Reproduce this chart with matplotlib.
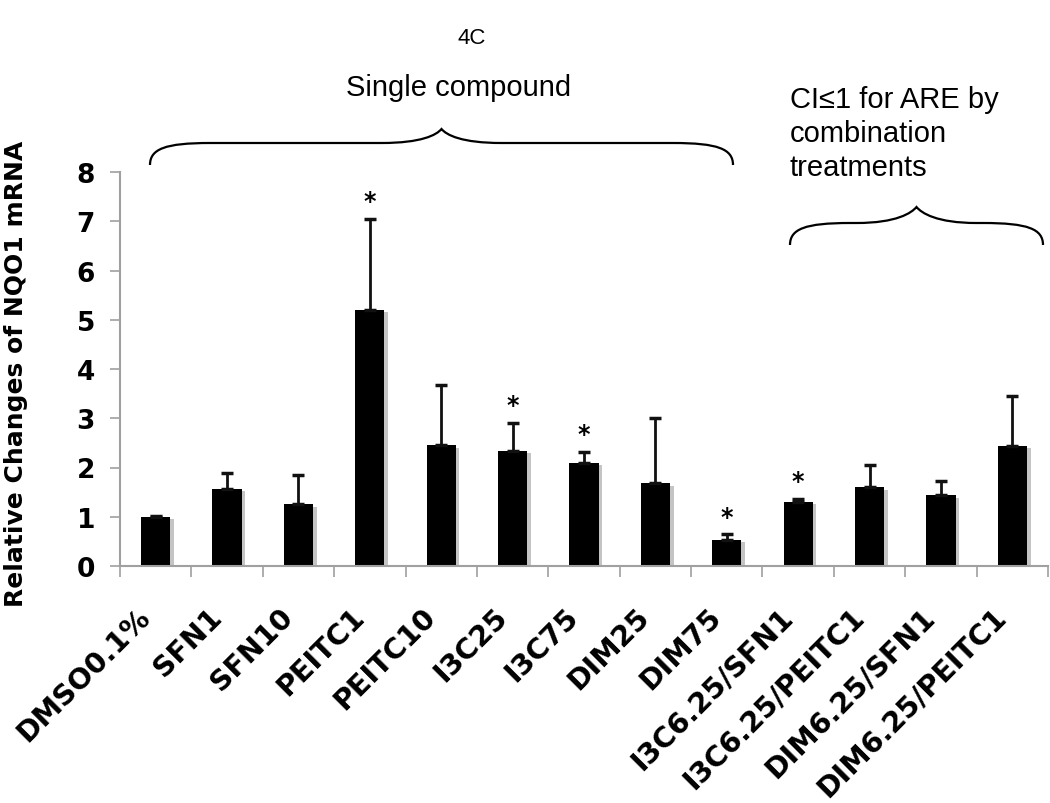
import matplotlib.pyplot as plt
from matplotlib.path import Path
from matplotlib.patches import PathPatch

W, H = 1050, 804

categories = ['DMSO0.1%', 'SFN1', 'SFN10', 'PEITC1', 'PEITC10', 'I3C25', 'I3C75',
              'DIM25', 'DIM75', 'I3C6.25/SFN1', 'I3C6.25/PEITC1', 'DIM6.25/SFN1',
              'DIM6.25/PEITC1']
means = [1.00, 1.57, 1.25, 5.20, 2.45, 2.34, 2.10, 1.68, 0.53, 1.30, 1.60, 1.44, 2.44]
errors = [0.02, 0.32, 0.59, 1.85, 1.22, 0.57, 0.22, 1.33, 0.11, 0.07, 0.46, 0.28, 1.02]
significant = [False, False, False, True, False, True, True, False, True, True,
               False, False, False]

fig = plt.figure(figsize=(W / 100, H / 100), dpi=100)
ax = fig.add_axes([120 / W, 1 - 567 / H, 928 / W, 394 / H])

x = list(range(len(categories)))

# light grey drop shadow behind each bar
ax.bar([i + 0.05 for i in x], [m - 0.05 for m in means], width=0.41,
       color='#c4c4c4', zorder=1)
ax.bar(x, means, width=0.41, color='black', zorder=2)
ax.errorbar(x, means, yerr=[[0] * len(x), errors], fmt='none', ecolor='#111111',
            elinewidth=2, capsize=4, capthick=2.5, zorder=3)

for i, sig in enumerate(significant):
    if sig:
        ax.annotate('*', xy=(i, means[i] + errors[i]), xytext=(0, 4),
                    textcoords='offset points', ha='center', va='bottom',
                    fontsize=17, fontweight='bold')

ax.set_xlim(-0.5, len(categories) - 0.5)
ax.set_ylim(0, 8)
ax.set_yticks(range(0, 9))
ax.tick_params(axis='y', length=7, width=1.2, color='#a0a0a0', pad=11,
               labelsize=19)
for lab in ax.get_yticklabels():
    lab.set_fontweight('bold')

ax.set_xticks(x)
ax.set_xticklabels(categories, rotation=45, ha='right', va='top',
                   fontsize=20.5, fontweight='bold')
ax.tick_params(axis='x', which='major', length=0, pad=26)
ax.set_xticks([i - 0.5 for i in range(len(categories) + 1)], minor=True)
ax.tick_params(axis='x', which='minor', length=8, width=1.2, color='#a0a0a0')

for side in ['top', 'right']:
    ax.spines[side].set_visible(False)
for side in ['left', 'bottom']:
    ax.spines[side].set_color('#a0a0a0')
    ax.spines[side].set_linewidth(1.5)

ax.set_ylabel('Relative Changes of NQO1 mRNA', fontsize=18, fontweight='bold')
ax.yaxis.set_label_coords(-0.099, 0.49)


def px(xp, yp):
    return (xp / W, 1 - yp / H)


def brace(x0, x1, ytop, yline, yend):
    xm = (x0 + x1) / 2
    verts = [px(x0, yend),
             px(x0, yline + 6), px(x0 + 15, yline), px(x0 + 60, yline),
             px(xm - 60, yline),
             px(xm - 20, yline), px(xm - 5, ytop + 6), px(xm, ytop),
             px(xm + 5, ytop + 6), px(xm + 20, yline), px(xm + 60, yline),
             px(x1 - 60, yline),
             px(x1 - 15, yline), px(x1, yline + 6), px(x1, yend)]
    codes = ([Path.MOVETO] + [Path.CURVE4] * 3 + [Path.LINETO] + [Path.CURVE4] * 6
             + [Path.LINETO] + [Path.CURVE4] * 3)
    fig.patches.append(PathPatch(Path(verts, codes), transform=fig.transFigure,
                                 fill=False, lw=1.6, color='black'))


brace(150, 733, 130, 144, 166)
brace(790, 1043, 208, 224, 246)

top_font = ['Liberation Sans', 'DejaVu Sans']
fig.text(*px(472, 39), '4C', family=top_font, fontsize=16, ha='center',
         va='center')
fig.text(*px(459, 88), 'Single compound', family=top_font, fontsize=21,
         ha='center', va='center')
fig.text(*px(790, 86), 'CI\u22641 for ARE by\ncombination\ntreatments',
         family=top_font, fontsize=21, ha='left', va='top', linespacing=1.28)

fig.savefig('out.png', dpi=100)
